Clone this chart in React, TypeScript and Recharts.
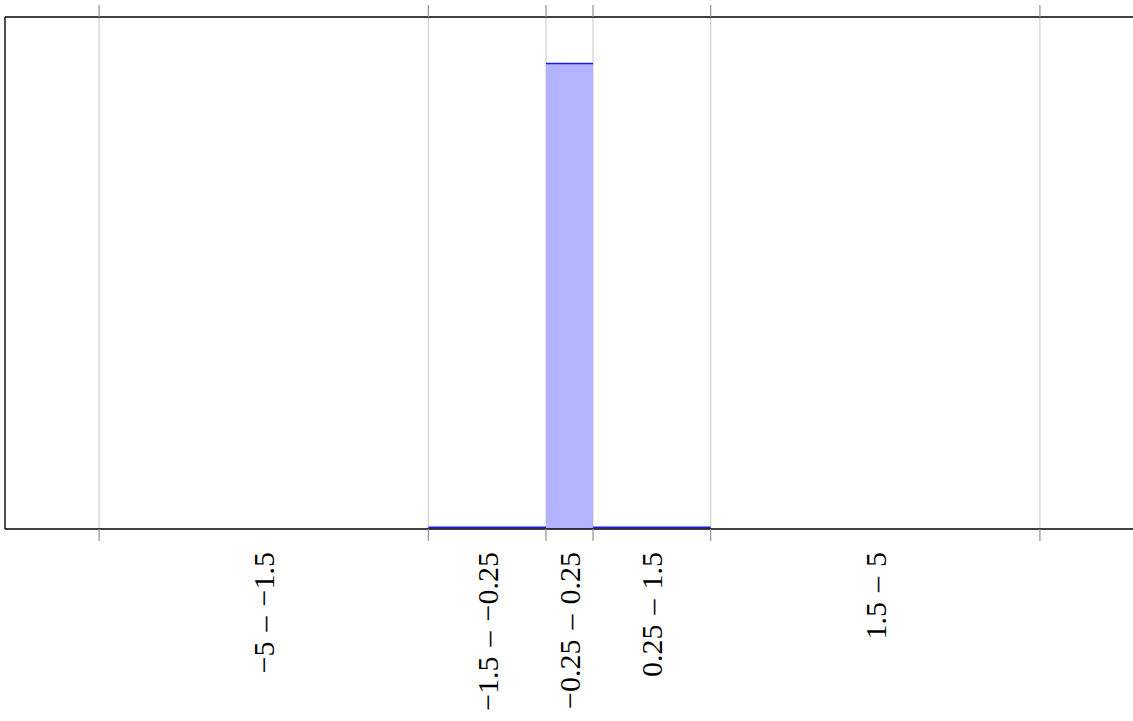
import React from 'react'
import {
  ComposedChart,
  Line,
  XAxis,
  YAxis,
  CartesianGrid,
  ReferenceArea,
  ReferenceLine,
} from 'recharts'

// bin edges of the histogram and the density of each bin
const binEdges = [-5, -1.5, -0.25, 0.25, 1.5, 5]
const binLabels = [
  '−5\u2004–\u2004−1.5',
  '−1.5\u2004–\u2004−0.25',
  '−0.25\u2004–\u20040.25',
  '0.25\u2004–\u20041.5',
  '1.5\u2004–\u20045',
]
const binDensity = [0, 0.004, 1, 0.004, 0]

const xDomain = [-6, 6]
const yDomain = [0, 1.1]

const bins = binLabels.map((label, i) => ({
  label,
  lo: binEdges[i],
  hi: binEdges[i + 1],
  mid: (binEdges[i] + binEdges[i + 1]) / 2,
  value: binDensity[i],
}))

const TICK_LEN = 12
const LABEL_GAP = 11
const SERIF = "'Liberation Serif', 'DejaVu Serif', serif"

const bottomTicks = [...binEdges, ...bins.map((b) => b.mid)].sort((a, b) => a - b)

const NoLabel = () => <g />

const BottomTick = (props: any) => {
  const { x, y, payload } = props
  const value = payload.value
  const axisY = y - TICK_LEN - LABEL_GAP
  if (binEdges.includes(value)) {
    return <line x1={x} x2={x} y1={axisY} y2={axisY + TICK_LEN} stroke="#999999" strokeWidth={1.3} />
  }
  const bin = bins.find((b) => b.mid === value)
  return (
    <g transform={`translate(${x},${y}) rotate(-90)`}>
      <text
        x={0}
        y={0}
        dy="0.35em"
        textAnchor="end"
        fontFamily={SERIF}
        fontSize={30}
        style={{ fontFamily: SERIF, fontSize: 30 }}
        fill="#000"
      >
        {bin ? bin.label : ''}
      </text>
    </g>
  )
}

export default function App() {
  return (
    <div
      style={{
        position: 'absolute',
        left: 0,
        top: 0,
        width: 1133,
        height: 721,
        overflow: 'hidden',
        background: '#fff',
      }}
    >
      <ComposedChart
        width={1140}
        height={721}
        data={bins}
        margin={{ top: 5, right: 6, bottom: 0, left: 5 }}
      >
        <CartesianGrid
          xAxisId="top"
          horizontal={false}
          stroke="#d4d4d4"
          strokeWidth={1.3}
        />
        <XAxis
          xAxisId="top"
          orientation="top"
          type="number"
          dataKey="mid"
          domain={xDomain}
          allowDataOverflow
          ticks={binEdges}
          interval={0}
          height={TICK_LEN}
          tickSize={TICK_LEN}
          tick={<NoLabel />}
          tickLine={{ stroke: '#999999', strokeWidth: 1.3 }}
          axisLine={false}
        />
        <XAxis
          xAxisId={0}
          orientation="bottom"
          type="number"
          dataKey="mid"
          domain={xDomain}
          allowDataOverflow
          ticks={bottomTicks}
          interval={0}
          height={192}
          tickSize={TICK_LEN}
          tickMargin={LABEL_GAP}
          tickLine={false}
          tick={<BottomTick />}
          axisLine={false}
        />
        <YAxis yAxisId={0} type="number" domain={yDomain} allowDataOverflow hide />
        <YAxis yAxisId="right" orientation="right" type="number" domain={yDomain} allowDataOverflow hide />
        <Line
          xAxisId={0}
          yAxisId={0}
          dataKey="value"
          stroke="none"
          dot={false}
          activeDot={false}
          isAnimationActive={false}
        />
        <Line
          xAxisId="top"
          yAxisId="right"
          dataKey="value"
          stroke="none"
          dot={false}
          activeDot={false}
          isAnimationActive={false}
        />
        {bins
          .filter((b) => b.value > 0)
          .map((b) => (
            <ReferenceArea
              key={`area-${b.label}`}
              xAxisId={0}
              yAxisId={0}
              x1={b.lo}
              x2={b.hi}
              y1={0}
              y2={b.value}
              fill="#b3b3ff"
              fillOpacity={1}
              stroke="none"
              ifOverflow="visible"
            />
          ))}
        {bins
          .filter((b) => b.value > 0)
          .map((b) => (
            <ReferenceLine
              key={`top-${b.label}`}
              xAxisId={0}
              yAxisId={0}
              segment={[
                { x: b.lo, y: b.value },
                { x: b.hi, y: b.value },
              ]}
              stroke="#1a1aee"
              strokeWidth={1.5}
              ifOverflow="visible"
            />
          ))}
        {/* plot frame */}
        <ReferenceLine xAxisId={0} yAxisId={0} x={xDomain[0]} stroke="#000" strokeWidth={1.3} ifOverflow="visible" />
        <ReferenceLine xAxisId={0} yAxisId={0} x={xDomain[1]} stroke="#000" strokeWidth={1.3} ifOverflow="visible" />
        <ReferenceLine xAxisId={0} yAxisId={0} y={yDomain[0]} stroke="#000" strokeWidth={1.3} ifOverflow="visible" />
        <ReferenceLine xAxisId={0} yAxisId={0} y={yDomain[1]} stroke="#000" strokeWidth={1.3} ifOverflow="visible" />
      </ComposedChart>
    </div>
  )
}
